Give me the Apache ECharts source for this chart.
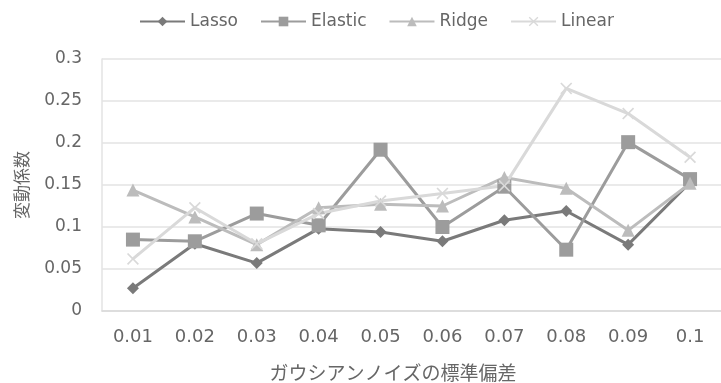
<!DOCTYPE html>
<html><head><meta charset="utf-8">
<script src="https://cdn.jsdelivr.net/npm/echarts@6/dist/echarts.min.js"></script>
<style>html,body{margin:0;padding:0;background:#fff;}#c{width:721px;height:383px;}</style>
</head><body><div id="c"></div>
<script>
const categories = ['0.01','0.02','0.03','0.04','0.05','0.06','0.07','0.08','0.09','0.1'];
const lasso   = [0.027,0.080,0.057,0.098,0.094,0.083,0.108,0.119,0.079,0.153];
const elastic = [0.085,0.083,0.116,0.102,0.192,0.100,0.148,0.073,0.201,0.157];
const ridge   = [0.144,0.112,0.079,0.123,0.127,0.125,0.159,0.146,0.096,0.152];
const linear  = [0.062,0.123,0.080,0.116,0.131,0.140,0.149,0.265,0.235,0.183];
const yTicks = [0,0.05,0.1,0.15,0.2,0.25,0.3];

const FONT = 'DejaVu Sans';
const crossPath = 'path://M0,1 L1,0 L5,4 L9,0 L10,1 L6,5 L10,9 L9,10 L5,6 L1,10 L0,9 L4,5 Z';
function mk(name, data, color, symbol, size) {
  return {name, type:'line', data, symbol, symbolSize:size,
    lineStyle:{color, width:3}, itemStyle:{color}, showSymbol:true};
}
const chart = echarts.init(document.getElementById('c'));
chart.setOption({
  animation:false,
  backgroundColor:'#fff',
  legend:{top:8, left:134, itemWidth:45, itemHeight:12, itemGap:22,
    textStyle:{fontFamily:FONT, fontSize:17, color:'#666'},
    data:['Lasso','Elastic','Ridge','Linear']},
  grid:{left:102, top:59, width:632, height:252},
  xAxis:{type:'category', data:categories, boundaryGap:true,
    axisLine:{lineStyle:{color:'#d9d9d9', width:1.5}}, axisTick:{show:false},
    axisLabel:{fontFamily:FONT, fontSize:18, color:'#666', margin:17},
    splitLine:{show:false}},
  yAxis:{type:'value', min:0, max:0.3, interval:0.05,
    name:'変動係数', nameLocation:'middle', nameRotate:90, nameGap:72,
    nameTextStyle:{fontFamily:'Noto Sans CJK JP', fontSize:17, color:'#666'},
    axisLine:{show:true, lineStyle:{color:'#e3e3e3', width:1.5}}, axisTick:{show:false},
    axisLabel:{fontFamily:FONT, fontSize:17, color:'#666', margin:20,
      formatter:v=>{const t=yTicks.find(x=>Math.abs(x-v)<1e-9); return String(+((t??v).toFixed(2)));}},
    splitLine:{lineStyle:{color:'#e3e3e3', width:1.5}}},
  graphic:[
    {type:'text', x:393, y:373, style:{text:'ガウシアンノイズの標準偏差', font:'19px "Noto Sans CJK JP"', fill:'#666', textAlign:'center', textVerticalAlign:'middle'}}
  ],
  series:[
    mk('Lasso', lasso, '#7a7a7a', 'diamond', 12),
    mk('Elastic', elastic, '#9c9c9c', 'rect', 14),
    mk('Ridge', ridge, '#bcbcbc', 'triangle', 13),
    mk('Linear', linear, '#d9d9d9', crossPath, 12)
  ]
});
</script></body></html>
